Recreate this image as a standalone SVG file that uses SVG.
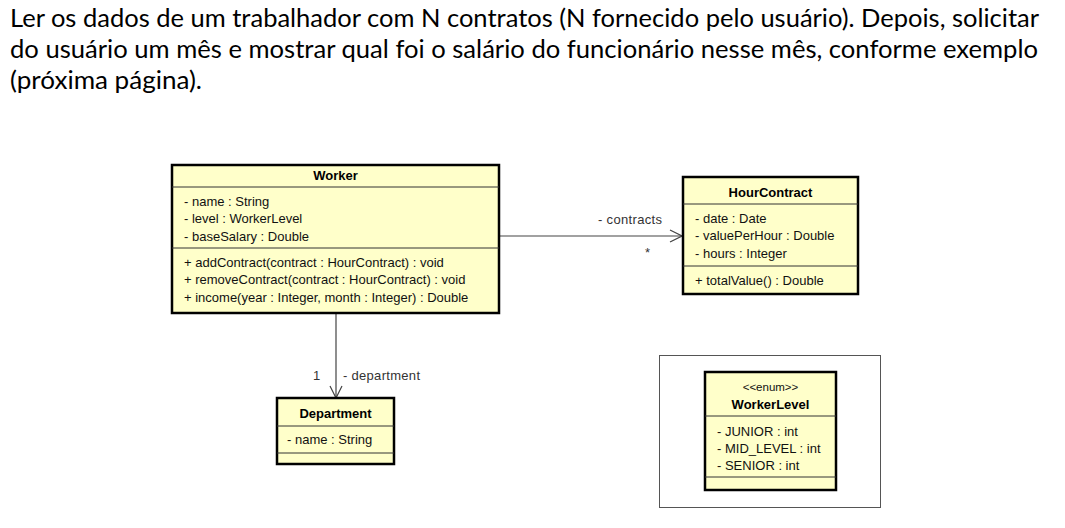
<svg xmlns="http://www.w3.org/2000/svg" width="1065" height="528" viewBox="0 0 1065 528">
<defs>
<style>
.bg{fill:#ffffff}
.head{font-family:Lato,"Open Sans","Noto Sans",sans-serif;font-size:25.5px;fill:#000}
.box{fill:#ffffca;stroke:#000;stroke-width:2.5}
.div{stroke:#333;stroke-width:1}
.t{font-family:"Liberation Sans",Arial,sans-serif;font-size:13px;fill:#111}
.b{font-family:"Liberation Sans",Arial,sans-serif;font-size:13px;font-weight:bold;fill:#000;text-anchor:middle}
.c{font-family:"Liberation Sans",Arial,sans-serif;font-size:11.5px;fill:#111;text-anchor:middle}
.lab{font-family:"Liberation Sans",Arial,sans-serif;font-size:13px;fill:#333}
.conn{stroke:#444;stroke-width:1.2;fill:none}
.frame{fill:#fff;stroke:#555;stroke-width:1}
</style>
<marker id="open" viewBox="0 0 14 14" refX="13" refY="7" markerWidth="14" markerHeight="14" markerUnits="userSpaceOnUse" orient="auto">
<path d="M1,1 L13,7 L1,13" fill="none" stroke="#444" stroke-width="1.2"/>
</marker>
</defs>
<rect class="bg" x="0" y="0" width="1065" height="528"/>
<g id="heading">
<text class="head" x="10" y="27" textLength="1029" lengthAdjust="spacingAndGlyphs">Ler os dados de um trabalhador com N contratos (N fornecido pelo usuário). Depois, solicitar</text>
<text class="head" x="10" y="58" textLength="1028" lengthAdjust="spacingAndGlyphs">do usuário um mês e mostrar qual foi o salário do funcionário nesse mês, conforme exemplo</text>
<text class="head" x="10" y="89" textLength="192" lengthAdjust="spacingAndGlyphs">(próxima página).</text>
</g>
<g id="connectors">
<line class="conn" x1="499" y1="236" x2="682" y2="236" marker-end="url(#open)"/>
<text class="lab" x="598" y="224" textLength="64">- contracts</text>
<text class="lab" x="645" y="257">*</text>
<line class="conn" x1="336" y1="314" x2="336" y2="398" marker-end="url(#open)"/>
<text class="lab" x="313" y="380">1</text>
<text class="lab" x="343" y="380" textLength="77">- department</text>
</g>
<g id="Worker">
<rect class="box" x="172" y="165" width="327" height="148"/>
<line class="div" x1="172" y1="187" x2="499" y2="187"/>
<line class="div" x1="172" y1="248" x2="499" y2="248"/>
<text class="b" x="335.5" y="180">Worker</text>
<text class="t" x="184" y="206">- name : String</text>
<text class="t" x="184" y="223">- level : WorkerLevel</text>
<text class="t" x="184" y="241">- baseSalary : Double</text>
<text class="t" x="184" y="267">+ addContract(contract : HourContract) : void</text>
<text class="t" x="184" y="284">+ removeContract(contract : HourContract) : void</text>
<text class="t" x="184" y="302">+ income(year : Integer, month : Integer) : Double</text>
</g>
<g id="HourContract">
<rect class="box" x="683" y="177" width="175" height="117"/>
<line class="div" x1="683" y1="204" x2="858" y2="204"/>
<line class="div" x1="683" y1="266" x2="858" y2="266"/>
<text class="b" x="770.5" y="197">HourContract</text>
<text class="t" x="695" y="223">- date : Date</text>
<text class="t" x="695" y="240">- valuePerHour : Double</text>
<text class="t" x="695" y="258">- hours : Integer</text>
<text class="t" x="695" y="285">+ totalValue() : Double</text>
</g>
<g id="Department">
<rect class="box" x="277" y="398" width="117" height="66"/>
<line class="div" x1="277" y1="426" x2="394" y2="426"/>
<line class="div" x1="277" y1="453" x2="394" y2="453"/>
<text class="b" x="335.5" y="418">Department</text>
<text class="t" x="287" y="444">- name : String</text>
</g>
<g id="WorkerLevelFrame">
<rect class="frame" x="659.5" y="355.5" width="221" height="152"/>
</g>
<g id="WorkerLevel">
<rect class="box" x="705" y="372" width="131" height="118"/>
<line class="div" x1="705" y1="416" x2="836" y2="416"/>
<line class="div" x1="705" y1="477" x2="836" y2="477"/>
<text class="c" x="770.5" y="391">&lt;&lt;enum&gt;&gt;</text>
<text class="b" x="770.5" y="409">WorkerLevel</text>
<text class="t" x="717" y="436">- JUNIOR : int</text>
<text class="t" x="717" y="453">- MID_LEVEL : int</text>
<text class="t" x="717" y="470">- SENIOR : int</text>
</g>
</svg>
